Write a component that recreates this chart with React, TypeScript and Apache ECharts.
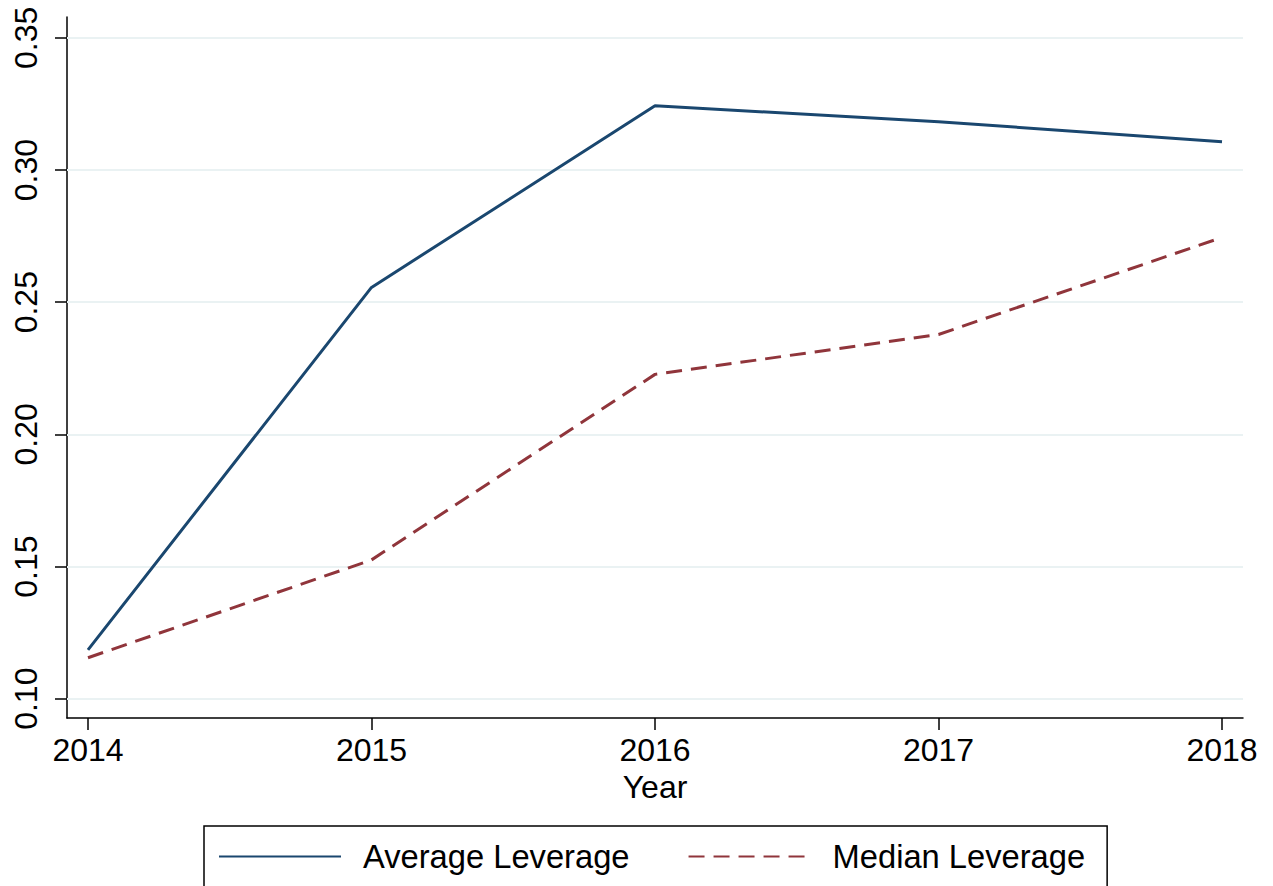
import React, { useEffect, useRef } from "react";
import * as echarts from "echarts";

const years = [2014, 2015, 2016, 2017, 2018];
const averageLeverage = [0.1185, 0.2556, 0.3243, 0.3183, 0.3107];
const medianLeverage = [0.1155, 0.1525, 0.2227, 0.2378, 0.2745];
const yTicks = [0.1, 0.15, 0.2, 0.25, 0.3, 0.35];
const seriesNames = ["Average Leverage", "Median Leverage"];
const xName = "Year";

const FONT = "Liberation Sans, Arial, sans-serif";

export default function App() {
  const ref = useRef<HTMLDivElement>(null);
  useEffect(() => {
    document.body.style.margin = "0";
    const chart = echarts.init(ref.current!, null, { renderer: "svg" });
    chart.setOption({
      animation: false,
      backgroundColor: "#ffffff",
      textStyle: { fontFamily: FONT },
      grid: { left: 67, right: 30, top: 17, bottom: 168, containLabel: false },
      xAxis: {
        type: "value",
        min: 2013.926,
        max: 2018.074,
        name: xName,
        nameLocation: "middle",
        nameGap: 53,
        nameTextStyle: { fontSize: 32, color: "#000", fontFamily: FONT },
        axisLine: { show: true, onZero: false, lineStyle: { color: "#000", width: 1.5 } },
        axisTick: { show: true, length: 12, customValues: years, lineStyle: { color: "#000", width: 1.5 } },
        axisLabel: {
          customValues: years,
          fontSize: 32,
          color: "#000",
          margin: 16,
          fontFamily: FONT,
          formatter: (v: number) => String(Math.round(v)),
        },
        splitLine: { show: false },
      },
      yAxis: {
        type: "value",
        min: 0.0927,
        max: 0.3579,
        axisLine: { show: true, onZero: false, lineStyle: { color: "#000", width: 1.5 } },
        axisTick: { show: true, length: 12, customValues: yTicks, lineStyle: { color: "#000", width: 1.5 } },
        axisLabel: {
          customValues: yTicks,
          rotate: 90,
          fontSize: 32,
          color: "#000",
          margin: 25,
          fontFamily: FONT,
          formatter: (v: number) => v.toFixed(2),
        },
        splitLine: { show: false },
      },
      legend: {
        data: seriesNames,
        left: 204,
        top: 826,
        orient: "horizontal",
        padding: [14, 22, 30, 14],
        itemWidth: 122,
        itemHeight: 30,
        itemGap: 58,
        borderColor: "#000",
        borderWidth: 1.5,
        itemStyle: { opacity: 0 },
        textStyle: { fontSize: 32.7, color: "#000", fontFamily: FONT, padding: [0, 0, 0, 17] },
      },
      series: [
        {
          name: "grid",
          type: "line",
          data: [],
          silent: true,
          z: 1,
          markLine: {
            silent: true,
            z: 1,
            symbol: "none",
            label: { show: false },
            lineStyle: { color: "#eaf2f3", width: 2, type: "solid" },
            data: yTicks.map((v) => ({ yAxis: v })),
          },
        },
        {
          name: seriesNames[0],
          type: "line",
          z: 3,
          symbol: "none",
          data: years.map((y, i) => [y, averageLeverage[i]]),
          lineStyle: { color: "#1a476f", width: 3 },
          itemStyle: { color: "#1a476f" },
        },
        {
          name: seriesNames[1],
          type: "line",
          z: 3,
          symbol: "none",
          data: years.map((y, i) => [y, medianLeverage[i]]),
          lineStyle: { color: "#90353b", width: 3, type: [16, 9] },
          itemStyle: { color: "#90353b" },
        },
      ],
    });
    return () => chart.dispose();
  }, []);
  return <div ref={ref} style={{ width: 1273, height: 886 }} />;
}
